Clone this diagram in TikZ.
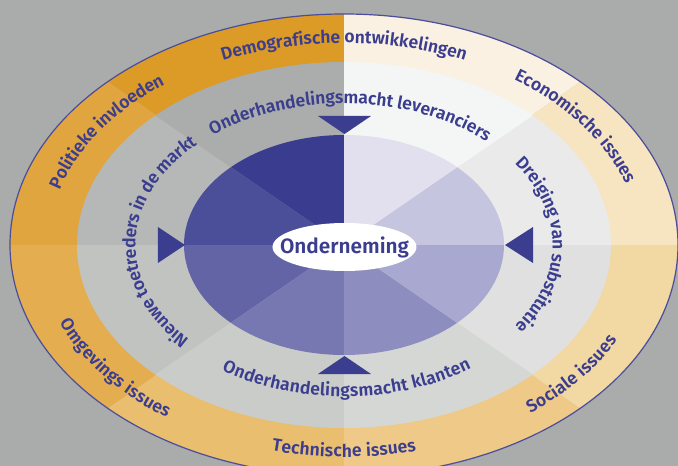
\documentclass[tikz,border=0pt]{standalone}
\usepackage{fontspec}
\setmainfont{Fira Sans}[BoldFont={Fira Sans SemiBold}]
\usetikzlibrary{decorations.text}
\definecolor{bg}{HTML}{A9ACAA}
\definecolor{o1}{HTML}{DC9A26}
\definecolor{o2}{HTML}{E0A53F}
\definecolor{o3}{HTML}{E4AE50}
\definecolor{o4}{HTML}{E9BE6E}
\definecolor{o5}{HTML}{EEC987}
\definecolor{o6}{HTML}{F2D8A3}
\definecolor{o7}{HTML}{F7E4C1}
\definecolor{o8}{HTML}{FBF1E2}
\definecolor{g1}{HTML}{AAADAB}
\definecolor{g2}{HTML}{B5B8B6}
\definecolor{g3}{HTML}{C1C3C1}
\definecolor{g4}{HTML}{CACCCA}
\definecolor{g5}{HTML}{D5D7D5}
\definecolor{g6}{HTML}{DFE0DF}
\definecolor{g7}{HTML}{EAEAEA}
\definecolor{g8}{HTML}{F4F5F5}
\definecolor{p1}{HTML}{3A3D8F}
\definecolor{p2}{HTML}{4B4E98}
\definecolor{p3}{HTML}{6264A6}
\definecolor{p4}{HTML}{7778B1}
\definecolor{p5}{HTML}{8E8DBF}
\definecolor{p6}{HTML}{A9A8D0}
\definecolor{p7}{HTML}{C6C5E0}
\definecolor{p8}{HTML}{E2E0EF}
\definecolor{tc}{HTML}{3B3D8E}
\definecolor{outl}{HTML}{4A4C9C}
\newcommand{\outerfont}{\fontsize{17.6}{17.6}\selectfont\bfseries}
\newcommand{\innerfont}{\fontsize{17.6}{17.6}\selectfont\bfseries}
\tikzset{
  outerlbl/.style={decorate, decoration={text along path, text align=center,
      raise=-5pt, text color=tc, text={|\outerfont|#1}}},
  innerlbl/.style={decorate, decoration={text along path, text align=center,
      raise=-5pt, text color=tc, text={|\innerfont|#1}}},
  arrowtri/.style={fill=tc}
}
\begin{document}
\begin{tikzpicture}[x=1pt,y=1pt]
\useasboundingbox (-344,-221) rectangle (334,245);
\fill[bg] (-344,-221) rectangle (334,245);
% outer ring sectors
\foreach \c [count=\i from 0] in {o7,o8,o1,o2,o3,o4,o5,o6} {
  \fill[\c] (0,0) -- ({45*\i}:334pt and 231pt)
    arc[start angle={45*\i}, end angle={45*\i+45}, x radius=334pt, y radius=231pt] -- cycle;
}
% middle ring sectors
\foreach \c [count=\i from 0] in {g7,g8,g1,g2,g3,g4,g5,g6} {
  \fill[\c] (0,0) -- ({45*\i}:267pt and 183pt)
    arc[start angle={45*\i}, end angle={45*\i+45}, x radius=267pt, y radius=183pt] -- cycle;
}
% inner purple sectors
\foreach \c [count=\i from 0] in {p7,p8,p1,p2,p3,p4,p5,p6} {
  \fill[\c] (0,0) -- ({45*\i}:160pt and 110pt)
    arc[start angle={45*\i}, end angle={45*\i+45}, x radius=160pt, y radius=110pt] -- cycle;
}
\draw[outl, line width=1.2pt] (0,0) ellipse[x radius=334pt, y radius=231pt];
% triangles
\fill[arrowtri] (-26,129) -- (27,129) -- (0.5,111) -- cycle;
\fill[arrowtri] (-26,-129) -- (27,-129) -- (0.5,-111) -- cycle;
\fill[arrowtri] (-186,18) -- (-186,-18) -- (-159,0) -- cycle;
\fill[arrowtri] (189,18) -- (189,-18) -- (161,0) -- cycle;
% centre
\fill[white] (0.5,-2) ellipse[x radius=72pt, y radius=24pt];
\node[text=tc, font=\fontsize{20.8}{20.8}\selectfont\bfseries] (core) at (0.5,-2) {Onderneming};
% outer labels
\path[outerlbl={Demografische ontwikkelingen}] (150:300.5pt and 207pt)
  arc[start angle=150, end angle=30, x radius=300.5pt, y radius=207pt];
\path[outerlbl={Economische issues}] (64:300.5pt and 207pt)
  arc[start angle=64, end angle=6, x radius=300.5pt, y radius=207pt];
\path[outerlbl={Politieke invloeden}] (176:300.5pt and 207pt)
  arc[start angle=176, end angle=118, x radius=300.5pt, y radius=207pt];
\path[outerlbl={Sociale issues}] (-65.5:300.5pt and 207pt)
  arc[start angle=-65.5, end angle=-9.5, x radius=300.5pt, y radius=207pt];
\path[outerlbl={Technische issues}] (-150:300.5pt and 207pt)
  arc[start angle=-150, end angle=-30, x radius=300.5pt, y radius=207pt];
\path[outerlbl={Omgevings issues}] (-171.7:300.5pt and 207pt)
  arc[start angle=-171.7, end angle=-115.7, x radius=300.5pt, y radius=207pt];
% inner labels
\path[innerlbl={Onderhandelingsmacht leveranciers}] (157.5:213.5pt and 146.5pt)
  arc[start angle=157.5, end angle=17.5, x radius=213.5pt, y radius=146.5pt];
\path[innerlbl={Dreiging van substitutie}] (62:213.5pt and 146.5pt)
  arc[start angle=62, end angle=-62, x radius=213.5pt, y radius=146.5pt];
\path[innerlbl={Onderhandelingsmacht klanten}] (-149:213.5pt and 146.5pt)
  arc[start angle=-149, end angle=-29, x radius=213.5pt, y radius=146.5pt];
\path[innerlbl={Nieuwe toetreders in de markt}] (238.5:213.5pt and 146.5pt)
  arc[start angle=238.5, end angle=118.5, x radius=213.5pt, y radius=146.5pt];
\end{tikzpicture}
\end{document}
